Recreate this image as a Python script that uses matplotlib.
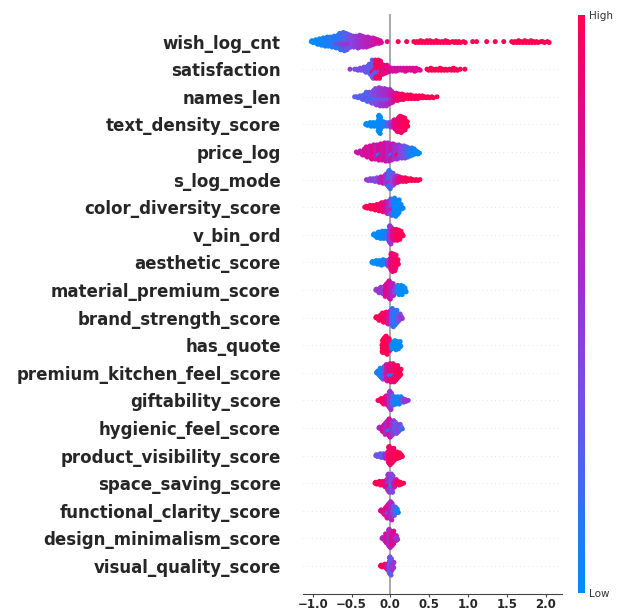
import numpy as np
import matplotlib
matplotlib.use("Agg")
import matplotlib.pyplot as plt
import matplotlib.colorbar as mcolorbar
from matplotlib.colors import LinearSegmentedColormap, Normalize

# Feature order (top to bottom)
features = [
    "wish_log_cnt", "satisfaction", "names_len", "text_density_score",
    "price_log", "s_log_mode", "color_diversity_score", "v_bin_ord",
    "aesthetic_score", "material_premium_score", "brand_strength_score",
    "has_quote", "premium_kitchen_feel_score", "giftability_score",
    "hygienic_feel_score", "product_visibility_score", "space_saving_score",
    "functional_clarity_score", "design_minimalism_score", "visual_quality_score",
]
xticks = [-1.0, -0.5, 0.0, 0.5, 1.0, 1.5, 2.0]

# Beeswarm bins: (SHAP value, number of points, feature value 0=low..1=high)
wish_log_cnt = [
    (-1.00, 3, 0.0), (-0.96, 5, 0.0), (-0.92, 7, 0.02), (-0.88, 9, 0.05), (-0.84, 10, 0.05),
    (-0.80, 11, 0.08), (-0.76, 12, 0.1), (-0.72, 13, 0.12), (-0.68, 11, 0.12), (-0.68, 4, 0.45),
    (-0.64, 13, 0.15), (-0.64, 6, 0.45), (-0.60, 14, 0.2), (-0.60, 7, 0.5), (-0.56, 12, 0.25),
    (-0.56, 7, 0.5), (-0.52, 10, 0.35), (-0.52, 5, 0.55), (-0.48, 13, 0.4), (-0.44, 13, 0.45),
    (-0.40, 15, 0.5), (-0.36, 13, 0.55), (-0.32, 12, 0.6), (-0.28, 11, 0.62), (-0.24, 9, 0.66),
    (-0.20, 7, 0.7), (-0.16, 5, 0.75), (-0.12, 3, 0.8), (-0.04, 1, 0.85),
    (0.10, 1, 1.0), (0.21, 1, 1.0), (0.32, 2, 1.0), (0.36, 2, 1.0), (0.40, 3, 1.0), (0.44, 2, 1.0),
    (0.48, 3, 1.0), (0.52, 3, 0.95), (0.56, 2, 1.0), (0.60, 3, 1.0), (0.64, 2, 1.0), (0.68, 2, 1.0),
    (0.72, 3, 0.95), (0.76, 2, 1.0), (0.82, 2, 1.0), (0.86, 2, 1.0), (0.90, 2, 1.0), (0.96, 2, 1.0),
    (1.06, 1, 1.0), (1.11, 1, 1.0), (1.24, 1, 1.0), (1.35, 1, 1.0), (1.46, 1, 1.0), (1.58, 2, 1.0),
    (1.62, 2, 1.0), (1.66, 3, 1.0), (1.70, 2, 1.0), (1.74, 3, 1.0), (1.78, 2, 1.0), (1.82, 3, 1.0),
    (1.86, 2, 1.0), (1.90, 2, 1.0), (1.94, 1, 1.0), (1.98, 2, 1.0), (2.04, 2, 1.0),
]
satisfaction = [
    (-0.52, 1, 0.45), (-0.46, 1, 0.35), (-0.42, 2, 0.3), (-0.38, 3, 0.4), (-0.34, 5, 0.35),
    (-0.30, 7, 0.3), (-0.26, 11, 0.25), (-0.22, 15, 0.3), (-0.22, 4, 0.95), (-0.18, 12, 0.95),
    (-0.18, 7, 0.2), (-0.14, 15, 0.95), (-0.14, 4, 0.3), (-0.10, 11, 0.9), (-0.06, 9, 0.85),
    (-0.02, 6, 0.8), (0.02, 4, 0.75), (0.06, 4, 0.7), (0.10, 3, 0.75), (0.14, 3, 0.7),
    (0.18, 4, 0.75), (0.22, 3, 0.8), (0.26, 3, 0.75), (0.30, 4, 0.8), (0.34, 3, 0.75),
    (0.38, 2, 0.8), (0.49, 2, 1.0), (0.53, 3, 0.95), (0.57, 2, 1.0), (0.61, 2, 1.0), (0.65, 3, 1.0),
    (0.69, 2, 1.0), (0.73, 2, 1.0), (0.78, 2, 1.0), (0.82, 3, 1.0), (0.86, 2, 0.95), (0.90, 1, 1.0),
    (0.96, 1, 1.0),
]
names_len = [
    (-0.46, 1, 0.3), (-0.42, 2, 0.2), (-0.38, 4, 0.3), (-0.34, 6, 0.25), (-0.30, 8, 0.2),
    (-0.30, 3, 0.5), (-0.26, 9, 0.3), (-0.26, 3, 0.15), (-0.22, 11, 0.35), (-0.22, 4, 0.1),
    (-0.18, 13, 0.4), (-0.18, 6, 0.2), (-0.14, 14, 0.45), (-0.14, 7, 0.3), (-0.10, 14, 0.5),
    (-0.10, 6, 0.3), (-0.06, 13, 0.55), (-0.06, 7, 0.35), (-0.02, 12, 0.6), (-0.02, 5, 0.3),
    (0.02, 10, 0.7), (0.02, 4, 0.5), (0.06, 9, 0.8), (0.10, 8, 0.9), (0.14, 7, 0.95),
    (0.18, 6, 0.95), (0.22, 5, 1.0), (0.26, 5, 1.0), (0.30, 4, 1.0), (0.34, 4, 0.95),
    (0.38, 3, 1.0), (0.42, 3, 1.0), (0.46, 2, 1.0), (0.50, 2, 1.0), (0.55, 2, 1.0), (0.60, 1, 1.0),
]
text_density_score = [
    (-0.30, 3, 0.0), (-0.26, 5, 0.0), (-0.22, 5, 0.0), (-0.18, 5, 0.0), (-0.14, 21, 0.0),
    (-0.10, 7, 0.05), (-0.06, 5, 0.1), (-0.02, 5, 0.3), (0.02, 7, 0.5), (0.06, 11, 0.8),
    (0.10, 17, 0.9), (0.14, 19, 0.95), (0.18, 15, 0.95), (0.21, 7, 1.0),
]
price_log = [
    (-0.42, 2, 0.7), (-0.38, 4, 0.75), (-0.34, 7, 0.7), (-0.30, 11, 0.8), (-0.26, 13, 0.7),
    (-0.22, 12, 0.85), (-0.22, 3, 1.0), (-0.18, 15, 0.65), (-0.14, 13, 0.8), (-0.14, 4, 0.1),
    (-0.10, 17, 0.7), (-0.06, 19, 0.75), (-0.02, 19, 0.6), (0.02, 13, 0.7), (0.02, 4, 0.1),
    (0.06, 15, 0.55), (0.10, 11, 0.5), (0.10, 4, 0.95), (0.14, 13, 0.4), (0.18, 13, 0.35),
    (0.22, 11, 0.2), (0.26, 9, 0.1), (0.30, 7, 0.05), (0.34, 4, 0.0), (0.37, 2, 0.0),
]
s_log_mode = [
    (-0.29, 2, 0.5), (-0.25, 3, 0.4), (-0.21, 4, 0.45), (-0.17, 5, 0.35), (-0.13, 7, 0.6),
    (-0.09, 9, 0.7), (-0.05, 13, 0.5), (-0.01, 16, 0.15), (-0.01, 5, 0.6), (0.03, 15, 0.35),
    (0.07, 9, 0.6), (0.11, 7, 0.8), (0.15, 5, 0.9), (0.19, 5, 0.95), (0.23, 3, 1.0),
    (0.27, 3, 1.0), (0.31, 2, 1.0), (0.35, 2, 1.0), (0.38, 1, 1.0),
]
color_diversity_score = [
    (-0.33, 1, 1.0), (-0.30, 3, 1.0), (-0.26, 5, 1.0), (-0.22, 5, 0.95), (-0.18, 7, 1.0),
    (-0.14, 9, 0.95), (-0.10, 11, 0.9), (-0.06, 13, 0.8), (-0.02, 15, 0.6), (0.02, 14, 0.3),
    (0.02, 5, 0.7), (0.06, 21, 0.05), (0.10, 17, 0.0), (0.13, 7, 0.0), (0.16, 2, 0.05),
]
v_bin_ord = [
    (-0.20, 3, 0.0), (-0.16, 7, 0.0), (-0.12, 9, 0.0), (-0.08, 9, 0.05), (-0.04, 9, 0.1),
    (0.00, 21, 0.5), (0.04, 13, 0.85), (0.08, 13, 0.95), (0.12, 11, 1.0), (0.16, 3, 1.0),
]
aesthetic_score = [
    (-0.22, 3, 0.0), (-0.18, 5, 0.0), (-0.14, 5, 0.0), (-0.10, 7, 0.05), (-0.06, 5, 0.1),
    (-0.02, 9, 0.5), (0.02, 21, 0.9), (0.06, 19, 0.9), (0.09, 7, 0.95),
]
material_premium_score = [
    (-0.17, 3, 0.45), (-0.13, 7, 0.5), (-0.09, 9, 0.45), (-0.05, 15, 0.8), (-0.01, 21, 0.75),
    (0.03, 15, 0.6), (0.07, 7, 0.4), (0.11, 11, 0.0), (0.15, 11, 0.0), (0.19, 5, 0.0),
]
brand_strength_score = [
    (-0.17, 3, 1.0), (-0.13, 7, 1.0), (-0.09, 11, 0.95), (-0.05, 13, 0.95), (-0.01, 15, 0.7),
    (0.03, 21, 0.2), (0.07, 17, 0.1), (0.11, 9, 0.35), (0.15, 3, 0.5),
]
has_quote = [
    (-0.09, 17, 1.0), (-0.05, 21, 1.0), (-0.02, 15, 0.95), (0.03, 9, 0.0), (0.07, 11, 0.0),
    (0.11, 9, 0.0), (0.13, 3, 0.0),
]
premium_kitchen_feel_score = [
    (-0.16, 5, 0.1), (-0.12, 11, 0.0), (-0.08, 15, 0.3), (-0.04, 19, 0.7), (0.00, 16, 0.9),
    (0.00, 5, 0.1), (0.04, 17, 0.9), (0.04, 4, 0.2), (0.08, 17, 0.95), (0.12, 9, 1.0),
]
giftability_score = [
    (-0.16, 1, 0.8), (-0.12, 5, 1.0), (-0.08, 9, 0.95), (-0.04, 11, 0.8), (0.00, 21, 0.5),
    (0.04, 11, 0.2), (0.08, 9, 0.0), (0.12, 9, 0.05), (0.16, 5, 0.3), (0.20, 3, 0.5), (0.23, 1, 0.5),
]
hygienic_feel_score = [
    (-0.13, 3, 0.5), (-0.09, 9, 0.8), (-0.05, 15, 0.6), (-0.01, 16, 0.75), (-0.01, 5, 0.1),
    (0.03, 17, 0.5), (0.07, 13, 0.3), (0.11, 9, 0.4), (0.15, 3, 0.2),
]
product_visibility_score = [
    (-0.17, 3, 0.3), (-0.13, 5, 0.35), (-0.09, 5, 0.2), (-0.05, 7, 0.6), (-0.01, 21, 0.95),
    (0.03, 17, 0.95), (0.07, 9, 1.0), (0.11, 7, 1.0), (0.15, 3, 1.0),
]
space_saving_score = [
    (-0.18, 3, 1.0), (-0.14, 5, 1.0), (-0.10, 5, 0.95), (-0.06, 9, 0.8), (-0.02, 16, 0.5),
    (-0.02, 5, 0.9), (0.02, 16, 0.4), (0.02, 5, 0.1), (0.06, 9, 0.7), (0.10, 5, 0.95),
    (0.14, 3, 1.0), (0.17, 1, 1.0),
]
functional_clarity_score = [
    (-0.11, 3, 0.8), (-0.07, 9, 0.85), (-0.03, 12, 0.75), (-0.03, 5, 0.4), (0.01, 21, 0.6),
    (0.05, 11, 0.3), (0.09, 5, 0.05),
]
design_minimalism_score = [
    (-0.09, 3, 0.6), (-0.05, 11, 0.75), (-0.01, 21, 0.6), (0.03, 17, 0.8), (0.07, 7, 0.7),
    (0.09, 3, 0.5),
]
visual_quality_score = [
    (-0.11, 3, 1.0), (-0.07, 5, 1.0), (-0.03, 9, 0.7), (0.00, 21, 0.3), (0.03, 9, 0.5),
]

all_bins = [
    wish_log_cnt, satisfaction, names_len, text_density_score, price_log, s_log_mode,
    color_diversity_score, v_bin_ord, aesthetic_score, material_premium_score,
    brand_strength_score, has_quote, premium_kitchen_feel_score, giftability_score,
    hygienic_feel_score, product_visibility_score, space_saving_score,
    functional_clarity_score, design_minimalism_score, visual_quality_score,
]

cmap = LinearSegmentedColormap.from_list(
    "shap_red_blue",
    [(0.0, "#008bfb"), (0.35, "#7a4de6"), (0.55, "#a42ccb"), (0.78, "#db0a97"), (1.0, "#ff0052")],
)

W, H = 619, 612
fig = plt.figure(figsize=(W / 100, H / 100), dpi=100)
ax_bottom, ax_top = 593.6, 14.0
ax_left, ax_right = 303.0, 562.0
ax = fig.add_axes([ax_left / W, (H - ax_bottom) / H, (ax_right - ax_left) / W, (ax_bottom - ax_top) / H])

n_feat = len(features)
bin_w = 0.036
golden = 0.6180339887

for i, (name, bins) in enumerate(zip(features, all_bins)):
    row = n_feat - 1 - i
    ax.axhline(row, color="#cccccc", lw=0.5, dashes=(1, 5), zorder=-1)
    groups = {}
    for x, n, c in bins:
        groups.setdefault(x, []).append([n, c])
    max_k = max(sum(g[0] for g in grp) // 2 for grp in groups.values())
    step = 0.33 / max(max_k, 1)
    xs, ys, cs = [], [], []
    for x, grp in groups.items():
        cols = []
        rem = [list(g) for g in grp]
        while any(r[0] > 0 for r in rem):
            for r in rem:
                if r[0] > 0:
                    cols.append(r[1])
                    r[0] -= 1
        n = len(cols)
        for j, c in enumerate(cols):
            k = (j + 1) // 2
            sign = -1 if j % 2 else 1
            off = ((j * golden) % 1.0 - 0.5) * bin_w if n > 1 else 0.0
            xs.append(x + off)
            ys.append(row + sign * k * step)
            cs.append(c)
    ax.scatter(xs, ys, c=cs, cmap=cmap, vmin=0, vmax=1, s=13, linewidths=0, zorder=3)

ax.axvline(0, color="#999999", lw=1.2, zorder=-1)
ax.set_xlim(-1.125, 2.21)
ax.set_ylim(-1, n_feat)
ax.set_yticks(range(n_feat))
ax.set_yticklabels(features[::-1], fontsize=12, fontweight="bold", color="#262626")
ax.tick_params(axis="y", length=0, pad=16)
ax.set_xticks(xticks)
ax.set_xticklabels([f"{t:.1f}".replace("-", "\u2212") for t in xticks], fontsize=8.5, fontweight="bold", color="#262626")
ax.tick_params(axis="x", length=2.5, width=0.8, color="#444444", pad=0.8)
for s in ["top", "right", "left"]:
    ax.spines[s].set_visible(False)
ax.spines["bottom"].set_color("#444444")
ax.spines["bottom"].set_linewidth(0.8)

# Colorbar
cax = fig.add_axes([578 / W, (H - 593) / H, 7 / W, (593 - 15) / H])
cb = mcolorbar.ColorbarBase(cax, cmap=cmap, norm=Normalize(0, 1), orientation="vertical")
cb.outline.set_visible(False)
cb.set_ticks([0, 1])
cb.set_ticklabels(["Low", "High"])
cax.tick_params(length=0, labelsize=7.5, pad=3, labelcolor="#333333")

fig.savefig("out.png", dpi=100)
